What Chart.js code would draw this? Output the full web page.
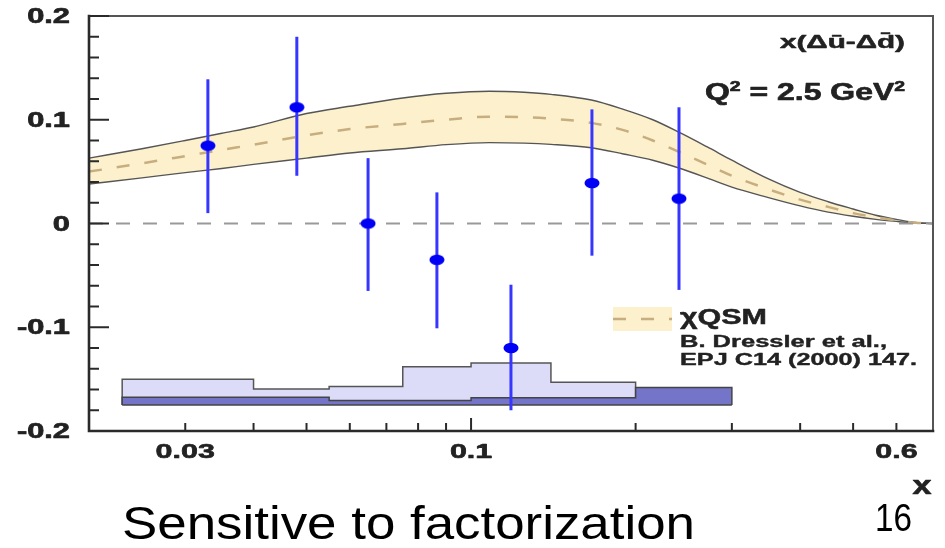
<!DOCTYPE html>
<html><head><meta charset="utf-8">
<script src="https://cdn.jsdelivr.net/npm/chart.js@4/dist/chart.umd.min.js"></script>
<style>html,body{margin:0;padding:0;background:#fff;}canvas{display:block;}</style>
</head><body>
<canvas id="c" width="945" height="548"></canvas>
<script>
// ---- data ----
const dataX   = [0.0330, 0.0480, 0.0648, 0.0866, 0.1183, 0.1664, 0.2401];
const dataY   = [0.075, 0.112, 0.000, -0.035, -0.120, 0.039, 0.024];
const errHi   = [0.139, 0.180, 0.063, 0.030, -0.059, 0.110, 0.112];
const errLo   = [0.010, 0.046, -0.065, -0.101, -0.180, -0.031, -0.064];

const theoryX       = [0.02, 0.025, 0.03, 0.035, 0.04, 0.05, 0.06, 0.075, 0.09, 0.108, 0.125, 0.14, 0.166, 0.19, 0.215, 0.24, 0.27, 0.3, 0.35, 0.4, 0.45, 0.5, 0.55, 0.6, 0.65, 0.7];
const theoryUpper   = [0.063, 0.072, 0.080, 0.087, 0.093, 0.106, 0.113, 0.121, 0.1255, 0.1275, 0.1265, 0.1245, 0.119, 0.110, 0.100, 0.088, 0.074, 0.061, 0.043, 0.030, 0.021, 0.014, 0.008, 0.004, 0.001, 0];
const theoryCentral = [0.050, 0.058, 0.065, 0.071, 0.076, 0.085, 0.091, 0.096, 0.100, 0.103, 0.1025, 0.101, 0.097, 0.090, 0.080, 0.069, 0.057, 0.046, 0.033, 0.023, 0.016, 0.010, 0.006, 0.003, 0.0008, 0];
const theoryLower   = [0.038, 0.044, 0.049, 0.053, 0.057, 0.063, 0.068, 0.072, 0.076, 0.078, 0.0775, 0.0763, 0.073, 0.067, 0.061, 0.0535, 0.044, 0.035, 0.025, 0.017, 0.011, 0.007, 0.004, 0.002, 0.0005, 0];

const binEdges  = [0.023, 0.04, 0.055, 0.075, 0.1, 0.14, 0.2, 0.3];
const sysTotal  = [-0.150, -0.1595, -0.157, -0.138, -0.1345, -0.153];
const sysPart   = [-0.1675, -0.1675, -0.1705, -0.1705, -0.168, -0.168, -0.158];
const sysBase   = -0.175;

const xTickValues = [0.03, 0.1, 0.6];
const xTickLabels = ['0.03', '0.1', '0.6'];
const yTickValues = [0.2, 0.1, 0, -0.1, -0.2];
const yTickLabels = ['0.2', '0.1', '0', '-0.1', '-0.2'];

// ---- builders ----
const pts = (xs, ys) => xs.map((x, i) => ({x, y: ys[i]}));
function stepData(edges, vals, base) {
  const p = [{x: edges[0], y: base}];
  vals.forEach((v, i) => p.push({x: edges[i], y: v}));
  p.push({x: edges[vals.length], y: vals[vals.length - 1]});
  p.push({x: edges[vals.length], y: base});
  return p;
}

// ellipse marker
const marker = document.createElement('canvas');
marker.width = 16; marker.height = 12;
(function(){ const m = marker.getContext('2d'); m.fillStyle = '#0000f5';
  m.beginPath(); m.ellipse(8, 6, 7.5, 5.2, 0, 0, Math.PI*2); m.fill(); })();

const PT_INDEX = 7;
const FONT = '"Liberation Sans", Arial, sans-serif';

// draw text with horizontal stretch sx (or fitted to width w when fit given)
function drawText(ctx, s, x, y, font, align, opt) {
  opt = opt || {};
  ctx.save();
  ctx.font = font; ctx.textAlign = 'left'; ctx.textBaseline = opt.baseline || 'middle';
  const nat = ctx.measureText(s).width;
  const sx = opt.fit ? opt.fit / nat : (opt.sx || 1);
  const w = nat * sx;
  const x0 = align === 'right' ? x - w : align === 'center' ? x - w / 2 : x;
  ctx.translate(x0, y); ctx.scale(sx, 1);
  ctx.fillText(s, 0, 0);
  if (opt.heavy) { ctx.lineWidth = opt.heavy; ctx.strokeStyle = ctx.fillStyle; ctx.lineJoin = 'round'; ctx.strokeText(s, 0, 0); }
  ctx.restore();
}
function drawRuns(ctx, runs, x, y, align, fit, heavy) {
  ctx.save();
  let nat = 0;
  runs.forEach(r => { ctx.font = r.font; r.w = ctx.measureText(r.t).width; nat += r.w; });
  const sx = fit / nat;
  let cx = align === 'right' ? x - fit : align === 'center' ? x - fit / 2 : x;
  ctx.textBaseline = 'alphabetic'; ctx.textAlign = 'left';
  runs.forEach(r => {
    ctx.save(); ctx.font = r.font; ctx.translate(cx, y + (r.dy || 0)); ctx.scale(sx, 1);
    ctx.fillText(r.t, 0, 0);
    if (heavy) { ctx.lineWidth = heavy; ctx.strokeStyle = ctx.fillStyle; ctx.lineJoin = 'round'; ctx.strokeText(r.t, 0, 0); }
    ctx.restore(); cx += r.w * sx;
  });
  ctx.restore();
}

const decor = {
  id: 'decor',
  beforeDatasetDraw(chart, args) {
    if (args.index !== PT_INDEX) return;
    const ctx = chart.ctx, xs = chart.scales.x, ys = chart.scales.y;
    ctx.save();
    ctx.strokeStyle = '#3636ff'; ctx.lineWidth = 3;
    dataX.forEach((xv, i) => {
      const px = xs.getPixelForValue(xv);
      ctx.beginPath();
      ctx.moveTo(px, ys.getPixelForValue(errHi[i]));
      ctx.lineTo(px, ys.getPixelForValue(errLo[i]));
      ctx.stroke();
    });
    ctx.restore();
  },
  afterDraw(chart) {
    const ctx = chart.ctx, xs = chart.scales.x, ys = chart.scales.y, a = chart.chartArea;
    ctx.save();
    // frame
    ctx.lineCap = 'square';
    ctx.strokeStyle = '#555'; ctx.lineWidth = 2;
    ctx.beginPath(); ctx.moveTo(a.left, a.top); ctx.lineTo(a.right, a.top); ctx.lineTo(a.right, a.bottom); ctx.stroke();
    ctx.strokeStyle = '#2a2a2a'; ctx.lineWidth = 2.6;
    ctx.beginPath(); ctx.moveTo(a.left, a.top); ctx.lineTo(a.left, a.bottom); ctx.lineTo(a.right, a.bottom); ctx.stroke();
    // y ticks
    ctx.lineWidth = 2; ctx.strokeStyle = '#2a2a2a'; ctx.lineCap = 'butt';
    for (let k = -10; k <= 10; k++) {
      const v = k * 0.02, py = ys.getPixelForValue(v);
      const len = (k % 5 === 0) ? 20 : 10;
      ctx.beginPath(); ctx.moveTo(a.left, py); ctx.lineTo(a.left + len, py); ctx.stroke();
    }
    // x ticks
    const minor = [0.03,0.04,0.05,0.06,0.07,0.08,0.09,0.1,0.2,0.3,0.4,0.5,0.6,0.7];
    minor.forEach(v => {
      const px = xs.getPixelForValue(v);
      if (px >= a.right - 1) return;
      const len = (v === 0.1) ? 13 : 8;
      ctx.beginPath(); ctx.moveTo(px, a.bottom); ctx.lineTo(px, a.bottom - len); ctx.stroke();
    });
    // tick labels
    ctx.fillStyle = '#222';
    yTickValues.forEach((v, i) => drawText(ctx, yTickLabels[i], a.left - 19, ys.getPixelForValue(v) + 1,
      'bold 22px ' + FONT, 'right', {sx: 1.4, heavy: 0.7}));
    xTickValues.forEach((v, i) => drawText(ctx, xTickLabels[i], xs.getPixelForValue(v), a.bottom + 21,
      'bold 21px ' + FONT, 'center', {sx: 1.45, heavy: 0.6}));
    drawText(ctx, 'x', 922, 487, 'bold 26px ' + FONT, 'center', {fit: 19, heavy: 0.6});
    // annotations
    drawText(ctx, 'x(\u0394\u016B-\u0394d\u0304)', 905, 43, 'bold 19px ' + FONT, 'right', {fit: 125, heavy: 0.5});
    const f1 = 'bold 23px ' + FONT, f2 = 'bold 14px ' + FONT;
    drawRuns(ctx, [{t:'Q', font:f1}, {t:'2', font:f2, dy:-9}, {t:' = 2.5 GeV', font:f1}, {t:'2', font:f2, dy:-9}], 905, 100, 'right', 200, 0.6);
    // legend swatch
    ctx.fillStyle = '#fcf1cc'; ctx.fillRect(613, 307, 59, 24);
    ctx.strokeStyle = '#c8ad80'; ctx.lineWidth = 2.5; ctx.setLineDash([13, 15]);
    ctx.beginPath(); ctx.moveTo(613, 319); ctx.lineTo(672, 319); ctx.stroke(); ctx.setLineDash([]);
    ctx.fillStyle = '#222';
    drawText(ctx, '\u03C7QSM', 680, 318, 'bold 22px ' + FONT, 'left', {fit: 87, heavy: 0.5});
    drawText(ctx, 'B. Dressler et al.,', 680, 342, 'bold 17px ' + FONT, 'left', {fit: 207, heavy: 0.4});
    drawText(ctx, 'EPJ C14 (2000) 147.', 680, 360, 'bold 17px ' + FONT, 'left', {fit: 237, heavy: 0.4});
    // slide text
    ctx.fillStyle = '#000';
    drawText(ctx, 'Sensitive to factorization', 122, 539, '47px ' + FONT, 'left', {fit: 573, baseline: 'alphabetic'});
    drawText(ctx, '16', 875, 531, '39px ' + FONT, 'left', {fit: 37, baseline: 'alphabetic'});
    ctx.restore();
  }
};

new Chart(document.getElementById('c'), {
  type: 'line',
  data: {
    datasets: [
      { data: pts(theoryX, theoryUpper), borderColor: '#555', borderWidth: 1.4, pointRadius: 0,
        backgroundColor: '#fcf1cc', fill: '+1', cubicInterpolationMode: 'monotone', order: 10 },
      { data: pts(theoryX, theoryLower), borderColor: '#555', borderWidth: 1.4, pointRadius: 0,
        fill: false, cubicInterpolationMode: 'monotone', order: 9 },
      { data: pts(theoryX, theoryCentral), borderColor: '#c8ad80', borderWidth: 2.5, borderDash: [13, 15],
        pointRadius: 0, fill: false, cubicInterpolationMode: 'monotone', order: 8 },
      { data: [{x: 0.02, y: 0}, {x: 0.7, y: 0}], borderColor: '#999', borderWidth: 2, borderDash: [14, 13],
        pointRadius: 0, fill: false, order: 7 },
      { data: stepData(binEdges, sysTotal, sysBase), stepped: true, borderColor: '#555', borderWidth: 1.5,
        backgroundColor: '#dcdcf8', fill: {value: sysBase}, pointRadius: 0, order: 6 },
      { data: stepData(binEdges, sysPart, sysBase), stepped: true, borderColor: '#444', borderWidth: 1.5,
        backgroundColor: '#7474c8', fill: {value: sysBase}, pointRadius: 0, order: 5 },
      { data: [{x: binEdges[0], y: sysBase}, {x: binEdges[binEdges.length - 1], y: sysBase}], borderColor: '#444',
        borderWidth: 1.5, pointRadius: 0, fill: false, order: 4 },
      { data: pts(dataX, dataY), showLine: false, pointStyle: marker, pointRadius: 7, order: 1 }
    ]
  },
  options: {
    responsive: false, animation: false, devicePixelRatio: 1,
    layout: { padding: { left: 89, top: 16, right: 12, bottom: 117 } },
    plugins: { legend: { display: false }, tooltip: { enabled: false } },
    scales: {
      x: { type: 'logarithmic', min: 0.02, max: 0.7, display: false },
      y: { type: 'linear', min: -0.2, max: 0.2, display: false }
    }
  },
  plugins: [decor]
});
</script>
</body></html>
